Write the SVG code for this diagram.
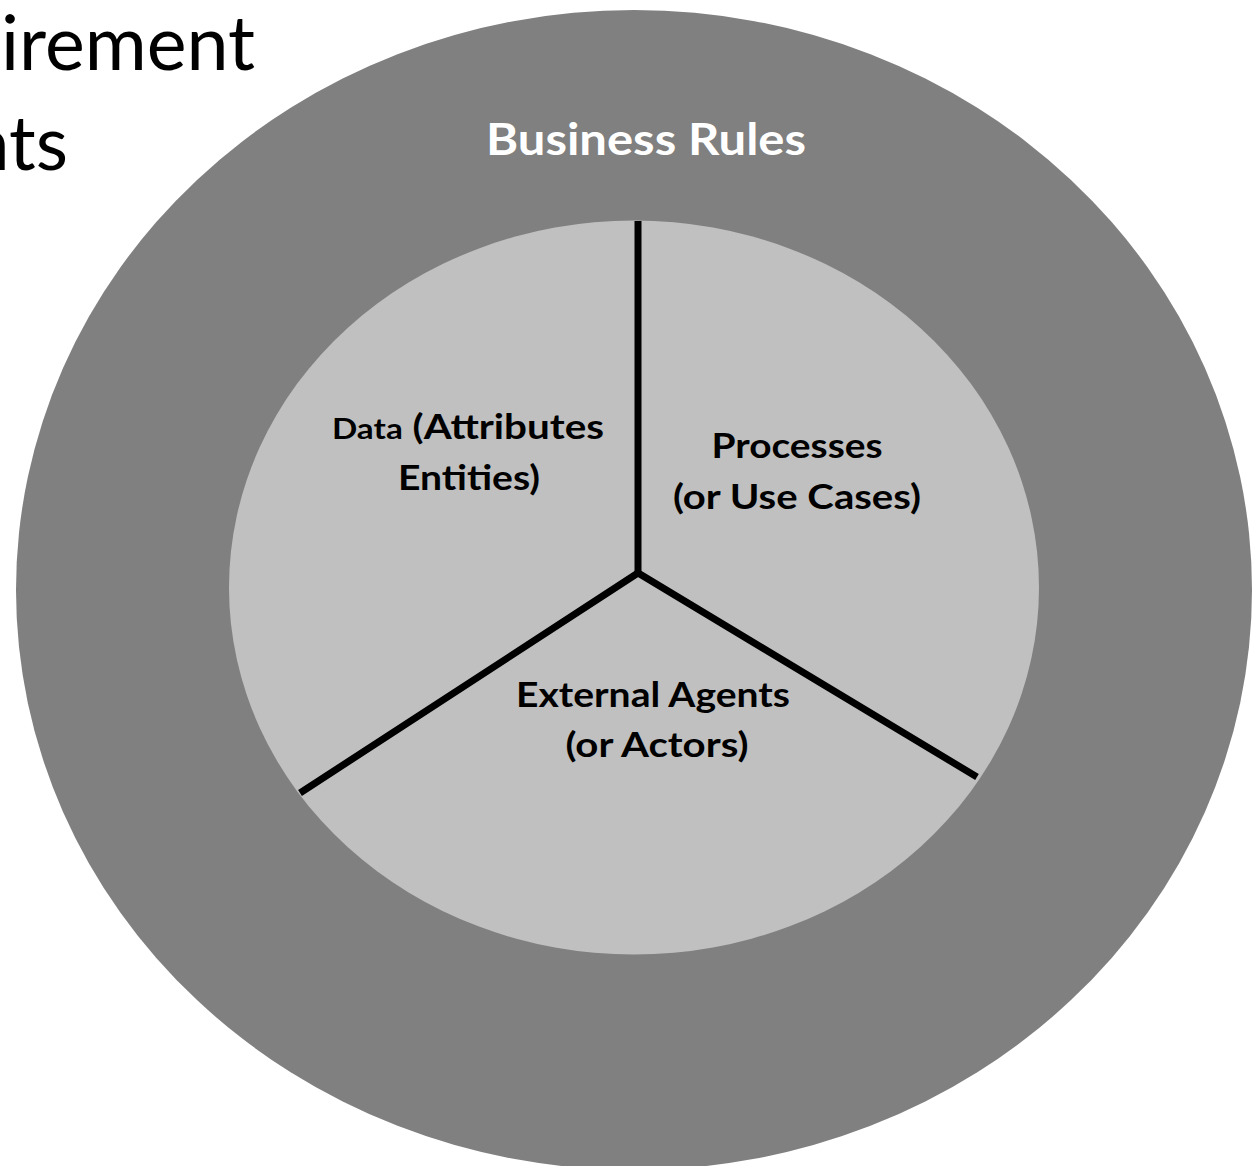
<svg xmlns="http://www.w3.org/2000/svg" width="1254" height="1166" viewBox="0 0 1254 1166">
<style>
.lbl{font-family:Lato,"Liberation Sans",sans-serif;font-weight:bold;fill:#000;text-anchor:middle}
.title{font-family:Lato,"Liberation Sans",sans-serif;font-size:75px;fill:#000}
.conn{stroke:#000;stroke-width:7;fill:none;stroke-linecap:butt}
</style>
<rect width="1254" height="1166" fill="#fff"/>
<g id="heading">
<text class="title" x="1" y="70" textLength="254" lengthAdjust="spacingAndGlyphs">irement</text>
<text class="title" x="-32" y="170" textLength="100" lengthAdjust="spacingAndGlyphs">nts</text>
</g>
<g id="business-rules">
<ellipse cx="634" cy="590" rx="618" ry="580" fill="#808080"/>
<text class="lbl" x="646" y="155" font-size="44" style="fill:#fff" textLength="320" lengthAdjust="spacingAndGlyphs">Business Rules</text>
</g>
<g id="core">
<ellipse cx="634" cy="587.5" rx="405" ry="367" fill="#c0c0c0"/>
</g>
<g id="connectors">
<line class="conn" x1="638" y1="221" x2="638" y2="574"/>
<polyline class="conn" points="300,793 638,573 977,777" stroke-linejoin="miter"/>
</g>
<g id="data">
<text class="lbl" x="468" y="439" font-size="34" textLength="272" lengthAdjust="spacingAndGlyphs"><tspan font-size="28">Data</tspan> (Attributes</text>
<text class="lbl" x="469" y="490" font-size="34" textLength="142" lengthAdjust="spacingAndGlyphs">Entities)</text>
</g>
<g id="processes">
<text class="lbl" x="797" y="458" font-size="34" textLength="171" lengthAdjust="spacingAndGlyphs">Processes</text>
<text class="lbl" x="797" y="509" font-size="34" textLength="248" lengthAdjust="spacingAndGlyphs">(or Use Cases)</text>
</g>
<g id="external-agents">
<text class="lbl" x="653" y="707" font-size="34" textLength="274" lengthAdjust="spacingAndGlyphs">External Agents</text>
<text class="lbl" x="657" y="757" font-size="34" textLength="183" lengthAdjust="spacingAndGlyphs">(or Actors)</text>
</g>
</svg>
